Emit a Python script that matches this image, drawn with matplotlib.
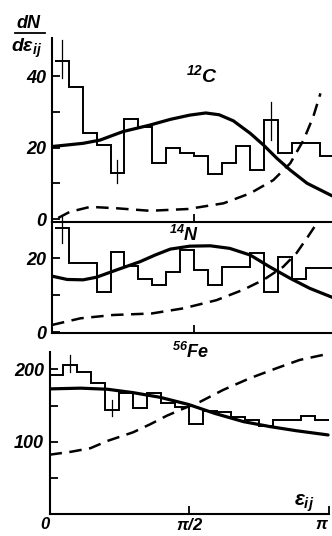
import numpy as np
import matplotlib as mpl
mpl.use("Agg")
import matplotlib.pyplot as plt
from matplotlib import font_manager

# ---------------------------------------------------------------------------
# Data (20 bins over 0..pi)
# ---------------------------------------------------------------------------
C12_HIST = [44.3, 37.1, 24.0, 20.7, 13.0, 27.9, 25.9, 15.6, 19.8, 18.6,
            17.7, 12.6, 15.6, 20.4, 13.7, 27.7, 18.6, 21.4, 21.4, 17.6]
N14_HIST = [28.2, 18.7, 18.7, 10.9, 21.5, 17.8, 14.2, 12.7, 16.3, 22.2,
            16.8, 12.7, 17.7, 17.7, 21.3, 10.9, 20.2, 14.2, 17.2, 17.2]
FE56_HIST = [192, 206, 197, 181.6, 144, 167, 146, 168, 154, 148,
             125, 143, 141.5, 134.6, 130, 121.7, 130, 130, 135.5, 130]

# error bars: (bin index, low, high)
C12_ERR = [(0, 39.5, 50.0), (4, 10.0, 16.5), (15, 22.1, 32.9)]
N14_ERR = [(0, 24.0, 31.6)]
FE56_ERR = [(1, 196, 220), (4, 135, 158)]

# solid (fit) curves
C12_FIT_X = [-0.03, 0.32, 0.51, 0.77, 1.07, 1.30, 1.52, 1.70, 1.85, 2.01, 2.20, 2.35, 2.50, 2.65, 2.84, 3.12]
C12_FIT_Y = [20.3, 21.2, 22.1, 24.5, 26.3, 27.9, 29.1, 29.7, 29.2, 27.5, 24.0, 20.7, 17.0, 13.7, 10.0, 6.5]
N14_FIT_X = [-0.03, 0.14, 0.32, 0.47, 0.70, 0.96, 1.13, 1.30, 1.52, 1.75, 1.97, 2.20, 2.42, 2.65, 2.87, 3.12]
N14_FIT_Y = [15.1, 14.2, 14.1, 14.8, 16.8, 19.0, 20.8, 22.4, 23.2, 23.3, 22.6, 20.8, 17.6, 14.5, 11.8, 9.4]
FE56_FIT_X = [0.0, 0.35, 0.65, 0.94, 1.24, 1.56, 1.86, 2.18, 2.48, 2.77, 3.13]
FE56_FIT_Y = [173, 174, 172.5, 167.8, 161.4, 151.5, 139, 127.7, 120.8, 115.2, 109.3]

# dashed curves
C12_REF_X = [0.04, 0.17, 0.40, 0.70, 1.07, 1.50, 1.90, 2.20, 2.46, 2.65, 2.80, 2.91, 2.99]
C12_REF_Y = [0.3, 2.0, 3.4, 3.0, 2.3, 2.8, 4.4, 7.2, 10.9, 15.6, 22.1, 28.7, 35.2]
N14_REF_X = [-0.03, 0.29, 0.66, 1.09, 1.45, 1.82, 2.12, 2.35, 2.57, 2.72, 2.85, 2.95]
N14_REF_Y = [1.9, 3.7, 4.6, 5.0, 6.4, 8.6, 11.4, 14.1, 17.6, 21.3, 25.8, 29.4]
FE56_REF_X = [0.0, 0.24, 0.46, 0.65, 0.94, 1.13, 1.32, 1.51, 1.69, 1.95, 2.25, 2.55, 2.81, 3.15]
FE56_REF_Y = [82, 86, 91, 101, 113, 124, 136, 146, 155, 171.5, 187.7, 201.5, 213, 222]

# ---------------------------------------------------------------------------
# Style
# ---------------------------------------------------------------------------
W, H = 332, 536
installed = {f.name for f in font_manager.fontManager.ttflist}
FAM = next((f for f in ["Liberation Sans Narrow", "Liberation Sans", "DejaVu Sans"]
            if f in installed), "DejaVu Sans")

plt.rcParams.update({
    "font.family": [FAM, "DejaVu Sans"],
    "font.style": "italic",
    "font.weight": "bold",
    "mathtext.fontset": "custom",
    "mathtext.it": f"{FAM}:italic:bold",
    "mathtext.rm": f"{FAM}:italic:bold",
    "mathtext.bf": f"{FAM}:italic:bold",
})

HIST_LW = 1.4
FIT_LW = 2.3
REF_LW = 1.8
SPINE_LW = 1.5
TICK_FS = 13


def px_axes(fig, left, top, right, bottom):
    return fig.add_axes([left / W, 1 - bottom / H, (right - left) / W, (bottom - top) / H])


def style_axes(ax):
    for s in ("top", "right"):
        ax.spines[s].set_visible(False)
    for s in ("left", "bottom"):
        ax.spines[s].set_linewidth(SPINE_LW)
    ax.tick_params(direction="in", length=6, width=1.3, labelsize=TICK_FS, pad=4)
    ax.set_facecolor("none")


def draw_panel(ax, hist, err, fit_x, fit_y, ref_x, ref_y):
    edges = np.linspace(0, np.pi, len(hist) + 1)
    centers = 0.5 * (edges[:-1] + edges[1:])
    ax.stairs(hist, edges, baseline=None, color="black", lw=HIST_LW)
    for i, lo, hi in err:
        ax.plot([centers[i], centers[i]], [lo, hi], color="black", lw=0.9, clip_on=False)
    ax.plot(fit_x, fit_y, color="black", lw=FIT_LW, solid_capstyle="round")
    ax.plot(ref_x, ref_y, color="black", lw=REF_LW, dashes=(5, 3))


fig = plt.figure(figsize=(W / 100, H / 100), dpi=100)

# --- 12C -------------------------------------------------------------------
ax1 = px_axes(fig, 52, 38, 332, 222)
style_axes(ax1)
draw_panel(ax1, C12_HIST, C12_ERR, C12_FIT_X, C12_FIT_Y, C12_REF_X, C12_REF_Y)
ax1.set_xlim(-0.03, 3.12)
ax1.set_ylim(-0.84, 50.7)
ax1.set_yticks([0, 10, 20, 30, 40], ["0", "", "20", "", "40"])
ax1.set_xticks([np.pi / 2], [""])
ax1.text(0.535, 0.80, r"$^{12}$C", transform=ax1.transAxes, fontsize=14,
         ha="center", va="center")

# --- 14N -------------------------------------------------------------------
ax2 = px_axes(fig, 52, 222, 332, 333)
style_axes(ax2)
draw_panel(ax2, N14_HIST, N14_ERR, N14_FIT_X, N14_FIT_Y, N14_REF_X, N14_REF_Y)
ax2.set_xlim(-0.03, 3.12)
ax2.set_ylim(-0.27, 29.73)
ax2.set_yticks([0, 10, 20], ["0", "", "20"])
ax2.set_xticks([np.pi / 2], [""])
ax2.text(0.47, 0.88, r"$^{14}$N", transform=ax2.transAxes, fontsize=13,
         ha="center", va="center")

# --- 56Fe ------------------------------------------------------------------
ax3 = px_axes(fig, 49.5, 352, 332, 514)
style_axes(ax3)
draw_panel(ax3, FE56_HIST, FE56_ERR, FE56_FIT_X, FE56_FIT_Y, FE56_REF_X, FE56_REF_Y)
ax3.set_xlim(0, 3.174)
ax3.set_ylim(0, 224)
ax3.spines["bottom"].set_bounds(0, np.pi)
ax3.set_yticks([0, 50, 100, 150, 200], ["", "", "100", "", "200"])
ax3.set_xticks([0, np.pi / 2, np.pi], ["0", r"$\pi/2$", r"$\pi$"])
ax3.tick_params(axis="x", labelsize=12, pad=2)
xl = ax3.get_xticklabels()
xl[0].set_ha("right")
xl[2].set_ha("right")
ax3.text(0.5, 1.0, r"$^{56}$Fe", transform=ax3.transAxes, fontsize=13,
         ha="center", va="center")
ax3.text(0.9, 0.0, r"$\varepsilon_{ij}$", transform=ax3.transAxes, fontsize=15,
         ha="center", va="bottom")

# --- y label: dN / d eps_ij --------------------------------------------------
fig.text(29 / W, 1 - 23 / H, r"$dN$", fontsize=13, ha="center", va="center")
fig.add_artist(plt.Line2D([15 / W, 45 / W], [1 - 32.5 / H, 1 - 32.5 / H],
                          color="black", lw=1.3))
fig.text(27 / W, 1 - 48 / H, r"$d\varepsilon_{ij}$", fontsize=14, ha="center", va="center")

fig.savefig("out.png", dpi=100)
